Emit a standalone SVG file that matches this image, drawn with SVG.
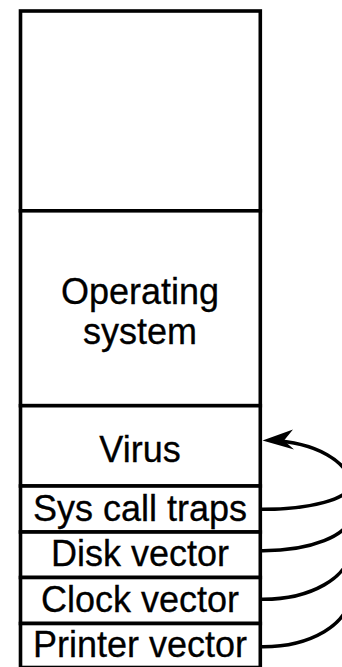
<svg xmlns="http://www.w3.org/2000/svg" width="342" height="667" viewBox="0 0 342 667">
<defs>
<style>
.box{fill:#fff;stroke:#000;stroke-width:3.6}
.t{font-family:"Liberation Sans",Arial,sans-serif;font-size:36px;fill:#000;text-anchor:middle;stroke:#000;stroke-width:0.3}
.c{fill:none;stroke:#000;stroke-width:3.6}
</style>
</defs>
<rect width="342" height="667" fill="#fff"/>
<g id="free"><rect class="box" x="20.5" y="11" width="239.8" height="199.8"/></g>
<g id="os"><rect class="box" x="20.5" y="210.8" width="239.8" height="194.9"/>
<text class="t" x="140" y="303.5">Operating</text><text class="t" x="140" y="344">system</text></g>
<g id="virus"><rect class="box" x="20.5" y="405.7" width="239.8" height="80.3"/><text class="t" x="140" y="461.7">Virus</text></g>
<g id="syscall"><rect class="box" x="20.5" y="486" width="239.8" height="46"/><text class="t" x="140" y="521">Sys call traps</text></g>
<g id="disk"><rect class="box" x="20.5" y="532" width="239.8" height="45.5"/><text class="t" x="140" y="565.7">Disk vector</text></g>
<g id="clock"><rect class="box" x="20.5" y="577.5" width="239.8" height="46"/><text class="t" x="140" y="612.3">Clock vector</text></g>
<g id="printer"><rect class="box" x="20.5" y="623.5" width="239.8" height="44"/><text class="t" x="140" y="656.7">Printer vector</text></g>
<g id="connectors">
<path class="c" d="M262,509.3 A87,24 0 0 0 350,485.3 A87,45 0 0 0 270,440.3"/>
<path class="c" d="M262,550.7 A87,35 0 0 0 350,515.7"/>
<path class="c" d="M262,599.3 A87,50 0 0 0 350,549.3"/>
<path class="c" d="M262,646.7 A87,52 0 0 0 350,594.7"/>
<path d="M262.5,440.5 L293,429.5 L284,440.5 L294,449.5 Z" fill="#000"/>
</g>
</svg>
